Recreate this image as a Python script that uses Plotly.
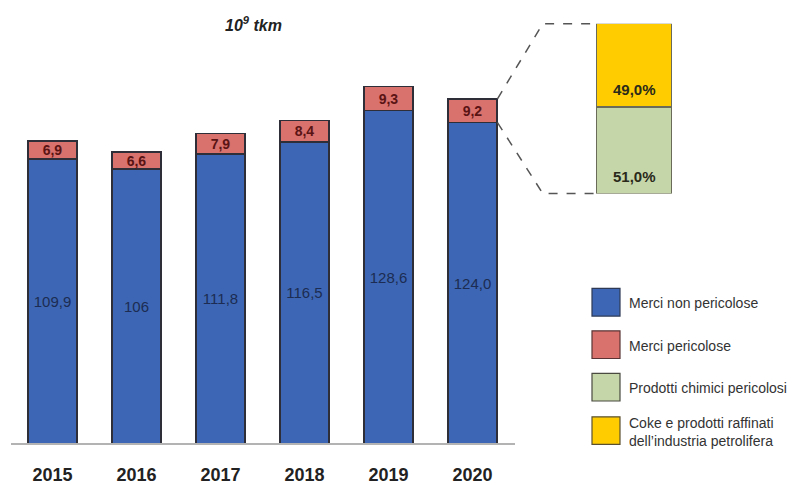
import plotly.graph_objects as go

# ---- data -------------------------------------------------------------
years = ["2015", "2016", "2017", "2018", "2019", "2020"]
non_dangerous = [109.9, 106.0, 111.8, 116.5, 128.6, 124.0]
non_dangerous_labels = ["109,9", "106", "111,8", "116,5", "128,6", "124,0"]
dangerous = [6.9, 6.6, 7.9, 8.4, 9.3, 9.2]

# breakdown of dangerous goods in the last year (%): chemicals, coke/refined
breakdown_share = [51.0, 49.0]

legend_names = ["Merci non pericolose", "Merci pericolose",
                "Prodotti chimici pericolosi",
                "Coke e prodotti raffinati<br>dell\u2019industria petrolifera"]

# ---- style ------------------------------------------------------------
W, H = 810, 485
BLUE = "#3d67b4"
RED = "#d9716d"
GREEN = "#c5d6a9"
YELLOW = "#ffcc00"
EDGE = "#2e2e38"
FONT = "Liberation Sans, Arial, sans-serif"


def fx(px):
    return px / W


def fy(py):
    return 1 - py / H


# main plot area (pixels)
MX0, MX1 = 10.5, 514.5
MY_BASE, MY_TOP = 449, 20
Y_MAX = (MY_BASE - MY_TOP) / 2.62
BAR_W = 0.583

# breakdown box area (pixels)
ZX0, ZX1 = 596, 672
ZY0, ZY1 = 24, 196


def main_px(xi):
    return MX0 + (xi + 0.5) / len(years) * (MX1 - MX0)


def main_py(v):
    return MY_BASE - v / Y_MAX * (MY_BASE - MY_TOP)


fig = go.Figure()

fig.add_trace(go.Bar(
    x=years, y=non_dangerous, name=legend_names[0],
    marker=dict(color=BLUE, line=dict(color=EDGE, width=1.5)),
    width=BAR_W,
    text=non_dangerous_labels, textposition="inside",
    insidetextanchor="middle", constraintext="none",
    textfont=dict(family=FONT, size=15, color="#1c2c52"),
    hoverinfo="skip",
))

fig.add_trace(go.Bar(
    x=years, y=dangerous, name=legend_names[1],
    marker=dict(color=RED, line=dict(color=EDGE, width=1.5)),
    width=BAR_W,
    text=[f"{v:.1f}".replace(".", ",") for v in dangerous],
    textposition="inside", insidetextanchor="middle", constraintext="none",
    textfont=dict(family=FONT, size=14, color="#5a1414", weight="bold"),
    hoverinfo="skip",
))

# stacked breakdown bar
for share, color in zip(breakdown_share, [GREEN, YELLOW]):
    fig.add_trace(go.Bar(
        x=[0], y=[share], xaxis="x2", yaxis="y2", width=1,
        marker=dict(color=color, line=dict(color="#6b6b5a", width=1.2)),
        hoverinfo="skip", showlegend=False,
    ))

# percentage labels near the bottom of each segment
base = 0
for share in breakdown_share:
    fig.add_annotation(
        x=0, y=base, xref="x2", yref="y2", yshift=17, showarrow=False,
        xanchor="center",
        text=f"{share:.1f}".replace(".", ",") + "%",
        font=dict(family=FONT, size=15, color="#2a2a1a", weight="bold"),
    )
    base += share

# dashed connectors from the last bar to the breakdown box
last = len(years) - 1
sx = main_px(last + BAR_W / 2) + 0.5
top_y = main_py(non_dangerous[last] + dangerous[last])
low_y = main_py(non_dangerous[last])
kx = sx + 0.46 * (ZX0 - sx)
for y_from, y_to in [(top_y, ZY0), (low_y, ZY1)]:
    fig.add_shape(
        type="path", xref="paper", yref="paper",
        path=(f"M {fx(sx)} {fy(y_from)} L {fx(kx)} {fy(y_to)} "
              f"L {fx(ZX0)} {fy(y_to)}"),
        line=dict(color="#555555", width=1.5, dash="dash"),
    )

# unit title
fig.add_annotation(
    x=fx(253), y=fy(24), xref="paper", yref="paper", showarrow=False,
    xanchor="center", yanchor="middle",
    text="<b><i>10<sup>9</sup> tkm</i></b>",
    font=dict(family=FONT, size=16, color="#222222"),
)

# legend
legend_colors = [BLUE, RED, GREEN, YELLOW]
legend_edges = ["#2e3a55", "#5a3434", "#4a4a40", "#5a5030"]
legend_rows = [(292, 320), (335, 363), (378, 406), (422, 450)]
for name, color, edge, (y0, y1) in zip(legend_names, legend_colors,
                                       legend_edges, legend_rows):
    fig.add_shape(type="rect", xref="paper", yref="paper",
                  x0=fx(592), x1=fx(620), y0=fy(y1), y1=fy(y0),
                  fillcolor=color, line=dict(color=edge, width=1.2))
    fig.add_annotation(
        x=fx(627), y=fy((y0 + y1) / 2 + 1), xref="paper", yref="paper",
        xanchor="left", yanchor="middle", align="left", showarrow=False,
        text=name, font=dict(family=FONT, size=14, color="#333333"),
    )

fig.update_layout(
    width=W, height=H,
    margin=dict(l=0, r=0, t=0, b=0),
    paper_bgcolor="white", plot_bgcolor="white",
    barmode="stack", showlegend=False,
    xaxis=dict(domain=[fx(MX0), fx(MX1)], type="category",
               range=[-0.5, len(years) - 0.5],
               showline=True, linecolor="#b3b3b3", linewidth=2,
               showgrid=False, zeroline=False, ticks="",
               ticklabelstandoff=14,
               tickfont=dict(family=FONT, size=18, color="#222222",
                             weight="bold")),
    yaxis=dict(domain=[fy(MY_BASE), fy(MY_TOP)], range=[0, Y_MAX],
               visible=False),
    xaxis2=dict(domain=[fx(ZX0), fx(ZX1)], range=[-0.5, 0.5],
                visible=False, anchor="y2"),
    yaxis2=dict(domain=[fy(ZY1), fy(ZY0)], range=[0, 100],
                visible=False, anchor="x2"),
)

fig.write_html("out.html")
